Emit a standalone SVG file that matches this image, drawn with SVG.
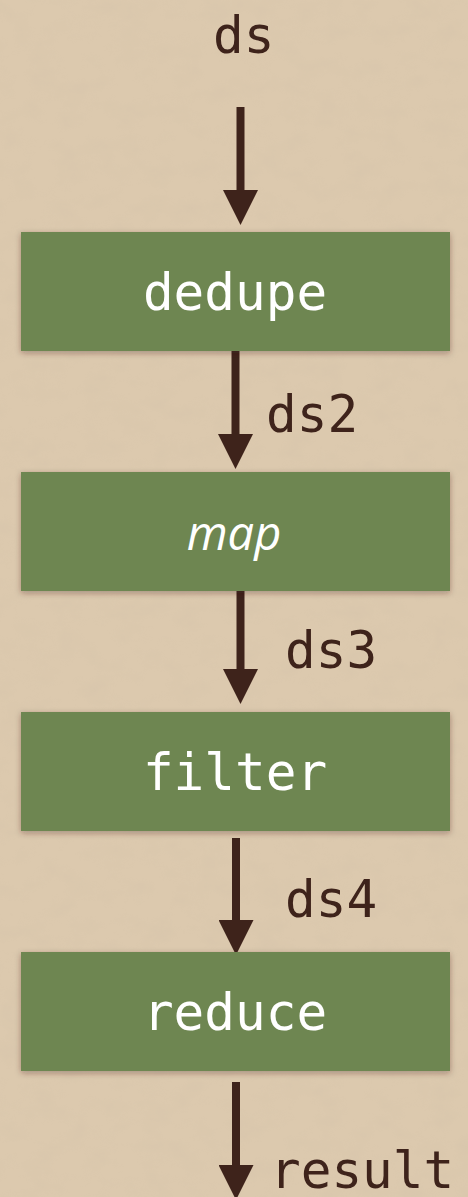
<svg xmlns="http://www.w3.org/2000/svg" width="468" height="1197" viewBox="0 0 468 1197">
  <defs>
    <filter id="paper" x="0" y="0" width="100%" height="100%">
      <feTurbulence type="fractalNoise" baseFrequency="0.035 0.05" numOctaves="4" seed="7" result="noise"/>
      <feColorMatrix in="noise" type="matrix" values="0 0 0 0 0.6  0 0 0 0 0.5  0 0 0 0 0.38  0 0 0 -1.4 0.8" result="tint"/>
      <feComposite in="tint" in2="SourceGraphic" operator="in"/>
    </filter>
    <filter id="shadow" x="-10%" y="-20%" width="120%" height="140%">
      <feDropShadow dx="0" dy="2" stdDeviation="3" flood-color="#3a2415" flood-opacity="0.35"/>
    </filter>
    <!-- arrowhead: base sits at the line end, tip 35px further on -->
    <marker id="head" viewBox="0 0 35 35" refX="1" refY="17.5" markerWidth="35" markerHeight="35" markerUnits="userSpaceOnUse" orient="auto">
      <path d="M0,0 L35,17.5 L0,35 Z" fill="#3e231b"/>
    </marker>
  </defs>
  <style>
    .box { fill: #6e8651; filter: url(#shadow); }
    .name { font-family: "DejaVu Sans Mono", monospace; font-size: 51px; fill: #ffffff; text-anchor: middle; }
    .ital { font-family: "Open Sans", "Noto Sans", sans-serif; font-style: italic; font-size: 47px; fill: #ffffff; text-anchor: middle; }
    .lbl { font-family: "DejaVu Sans Mono", monospace; font-size: 51px; fill: #3e231b; }
    .edge { stroke: #3e231b; stroke-width: 8; fill: none; marker-end: url(#head); }
  </style>

  <!-- parchment background -->
  <rect width="468" height="1197" fill="#dcc9ae"/>
  <rect width="468" height="1197" fill="#dcc9ae" filter="url(#paper)" opacity="0.25"/>

  <g id="connectors">
    <line class="edge" x1="240.5" y1="107" x2="240.5" y2="191"/>
    <line class="edge" x1="235.5" y1="351" x2="235.5" y2="435"/>
    <line class="edge" x1="240.5" y1="591" x2="240.5" y2="670"/>
    <line class="edge" x1="236" y1="838" x2="236" y2="921"/>
    <line class="edge" x1="236" y1="1082" x2="236" y2="1166"/>
  </g>

  <g id="input">
    <text class="lbl" x="213" y="53">ds</text>
  </g>

  <g id="dedupe">
    <rect class="box" x="21" y="232" width="429" height="119"/>
    <text class="name" x="235" y="310">dedupe</text>
  </g>
  <g id="label-ds2">
    <text class="lbl" x="266" y="432">ds2</text>
  </g>

  <g id="map">
    <rect class="box" x="21" y="472" width="429" height="119"/>
    <text class="ital" x="234" y="550">map</text>
  </g>
  <g id="label-ds3">
    <text class="lbl" x="285" y="668">ds3</text>
  </g>

  <g id="filter">
    <rect class="box" x="21" y="712" width="429" height="119"/>
    <text class="name" x="235" y="790">filter</text>
  </g>
  <g id="label-ds4">
    <text class="lbl" x="285" y="917">ds4</text>
  </g>

  <g id="reduce">
    <rect class="box" x="21" y="952" width="429" height="119"/>
    <text class="name" x="235" y="1030">reduce</text>
  </g>

  <g id="output">
    <text class="lbl" x="270" y="1188">result</text>
  </g>
</svg>
